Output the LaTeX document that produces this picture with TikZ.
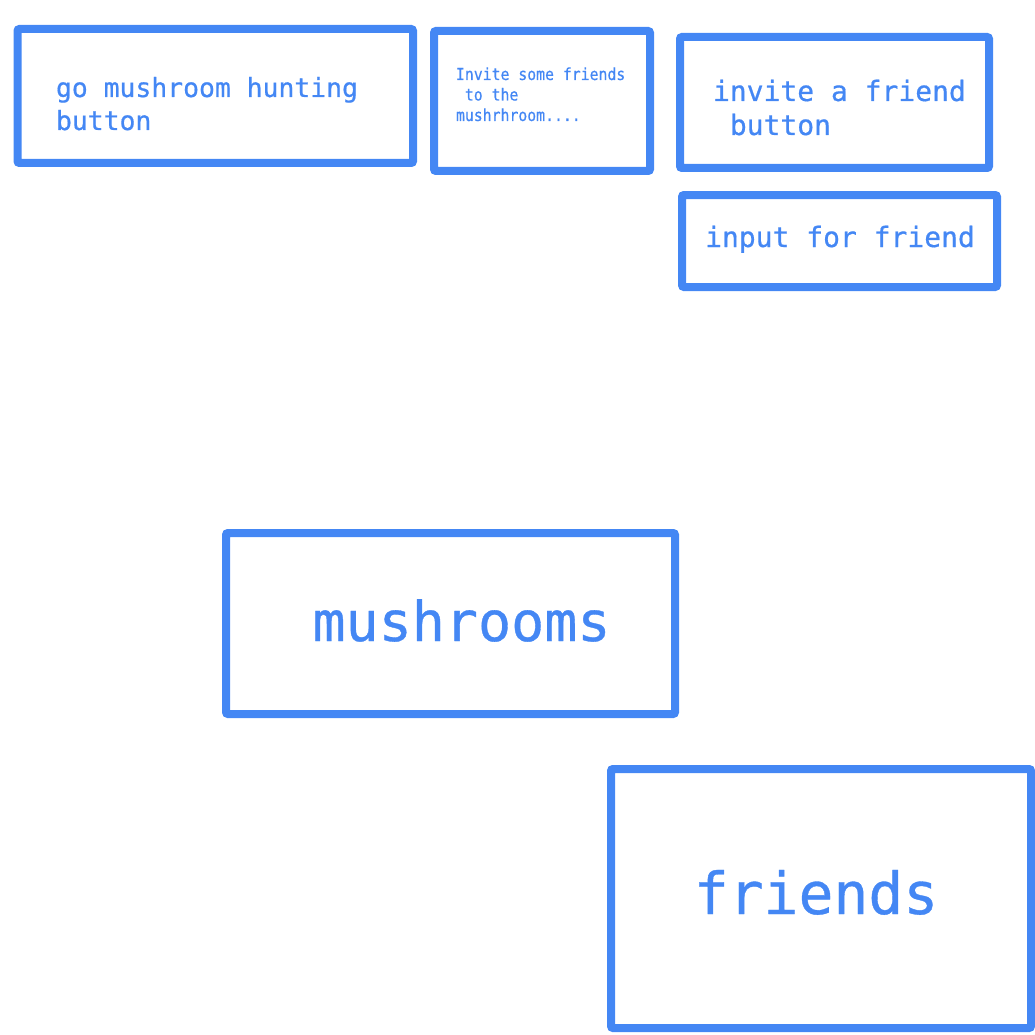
\documentclass[tikz,border=0pt]{standalone}
\usepackage{fontspec}
\newfontfamily\monofam[FakeBold=0.6]{DejaVu Sans Mono}
\definecolor{gblue}{HTML}{4487F4}
\tikzset{
  box/.style={draw=gblue, line width=8pt, rounded corners=2pt, inner sep=0pt, outer sep=0pt},
  lbl/.style={text=gblue, inner sep=0pt, outer sep=0pt, font=\monofam},
}
\newcommand{\fsz}[2]{\fontsize{#1pt}{#2pt}\selectfont}
\begin{document}
\begin{tikzpicture}[x=1pt,y=-1pt]
\useasboundingbox (0,0) rectangle (1035,1035);
% boxes
\node[box, minimum width=395.5pt, minimum height=134pt] (b1) at (215.25,96) {};
\node[box, minimum width=216pt, minimum height=140pt] (b2) at (542,101) {};
\node[box, minimum width=309pt, minimum height=131pt] (b3) at (834.5,102.5) {};
\node[box, minimum width=315pt, minimum height=92pt] (b4) at (839.5,241) {};
\node[box, minimum width=449pt, minimum height=181pt] (b5) at (450.5,623.5) {};
\node[box, minimum width=420pt, minimum height=259pt] (b6) at (821,898.5) {};
% texts
\node[lbl, anchor=base west] (t1) at (56,97) {\fsz{26.4}{33}\vtop{\hbox{go mushroom hunting}\hbox{button}}};
\node[lbl, anchor=base west] (t2) at (456,80) {\scalebox{1}[1.12]{\fsz{14.8}{18.3}\vtop{\hbox{Invite some friends}\hbox{\ to the}\hbox{mushrhroom....}}}};
\node[lbl, anchor=base west] (t3) at (713,101) {\fsz{28}{34}\vtop{\hbox{invite a friend}\hbox{\ button}}};
\node[lbl, anchor=base] (t4) at (840,247) {\fsz{28}{34}input for friend};
\node[lbl, anchor=base] (t5) at (461.5,641) {\fsz{55}{60}mushrooms};
\node[lbl, anchor=base] (t6) at (816,914) {\fsz{58}{62}friends};
\end{tikzpicture}
\end{document}
